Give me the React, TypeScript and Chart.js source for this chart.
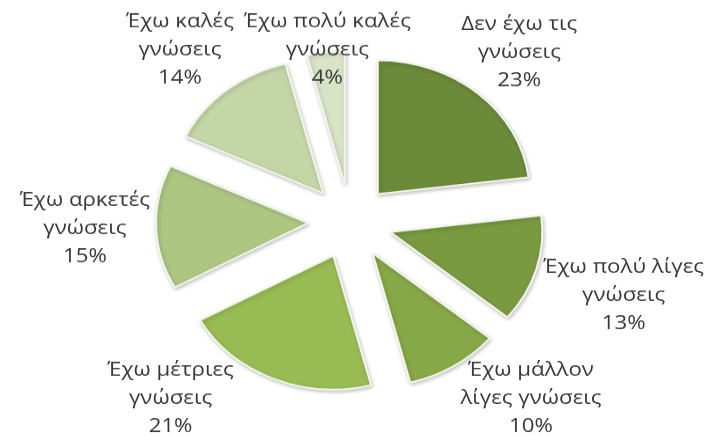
import React, { useEffect, useRef } from "react";
import { Chart, registerables } from "chart.js";

Chart.register(...registerables);

// ---- data ----
const categories: string[][] = [
  ["Δεν έχω τις", "γνώσεις"],
  ["Έχω πολύ λίγες", "γνώσεις"],
  ["Έχω μάλλον", "λίγες γνώσεις"],
  ["Έχω μέτριες", "γνώσεις"],
  ["Έχω αρκετές", "γνώσεις"],
  ["Έχω καλές", "γνώσεις"],
  ["Έχω πολύ καλές", "γνώσεις"],
];
const values = [23, 13, 10, 21, 15, 14, 4];
const sliceColors = ["#6b8a3a", "#799a40", "#86a846", "#98bc53", "#adc682", "#c4d5a6", "#d9e3c6"];

// ---- layout / style ----
const W = 706;
const VIEW_H = 436;
const SQUASH = 0.88;
const H = Math.round(VIEW_H / SQUASH);
const RADIUS = 152;
const EXPLODE = 42;
const GAP = 6;
const PUSH_PAD = 4;
const LABEL_SEP = 10;
const LINE = 32;
const TEXT_PAD = 10;
const LABEL_TOP = 15;
const FONT = "21px 'Open Sans', sans-serif";
const TEXT_STRETCH = 1.06;
const TEXT_COLOR = "#383838";

function insideAnySlice(chart: any, px: number, py: number, pad: number) {
  const arcs = chart.getDatasetMeta(0).data;
  for (const a of arcs) {
    const p = a.getProps(["x", "y", "startAngle", "endAngle", "outerRadius"], true);
    const half = (p.startAngle + p.endAngle) / 2;
    const vx = p.x + Math.cos(half) * EXPLODE;
    const vy = p.y + Math.sin(half) * EXPLODE;
    const dx = px - vx;
    const dy = py - vy;
    if (Math.hypot(dx, dy) > p.outerRadius + pad) continue;
    let ang = Math.atan2(dy, dx);
    while (ang < p.startAngle) ang += Math.PI * 2;
    while (ang > p.startAngle + Math.PI * 2) ang -= Math.PI * 2;
    if (ang <= p.endAngle) return true;
  }
  return false;
}

const explodePlugin = {
  id: "explodeSlices",
  beforeDatasetsDraw(chart: any) {
    const meta = chart.getDatasetMeta(0);
    meta.data.forEach((el: any) => {
      if (el.__exploded) return;
      const orig = el.draw;
      el.draw = function (ctx: CanvasRenderingContext2D, area: any) {
        const half = (this.startAngle + this.endAngle) / 2;
        ctx.save();
        ctx.translate(Math.cos(half) * EXPLODE, Math.sin(half) * EXPLODE);
        ctx.shadowColor = "rgba(0,0,0,0.22)";
        ctx.shadowBlur = 4;
        ctx.shadowOffsetX = 1;
        ctx.shadowOffsetY = 2;
        orig.call(this, ctx, area);
        ctx.restore();
      };
      el.__exploded = true;
    });
  },
};

type LabelBox = { cx: number; cy: number; w: number; hh: number; lines: string[] };

const labelPlugin = {
  id: "outsideLabels",
  afterDatasetsDraw(chart: any) {
    const ctx: CanvasRenderingContext2D = chart.ctx;
    const meta = chart.getDatasetMeta(0);
    const total = values.reduce((s, v) => s + v, 0);
    ctx.save();
    ctx.font = FONT;
    ctx.fillStyle = TEXT_COLOR;
    ctx.textAlign = "center";
    ctx.textBaseline = "middle";
    const boxes: LabelBox[] = [];
    meta.data.forEach((arc: any, i: number) => {
      const p = arc.getProps(["x", "y", "startAngle", "endAngle", "outerRadius"], true);
      const mid = (p.startAngle + p.endAngle) / 2;
      const dx = Math.cos(mid);
      const dy = Math.sin(mid);
      const lines = [...categories[i], `${Math.round((values[i] / total) * 100)}%`];
      const widths = lines.map((l) => ctx.measureText(l).width * TEXT_STRETCH);
      const w = Math.max(...widths);
      const hh = ((lines.length - 1) * LINE) / 2 + TEXT_PAD;
      const exitX = Math.abs(dx) > 1e-6 ? w / 2 / Math.abs(dx) : Infinity;
      const exitY = Math.abs(dy) > 1e-6 ? hh / Math.abs(dy) : Infinity;
      const exit = Math.min(exitX, exitY);
      const place = (t: number) => {
        let cx = p.x + dx * (t + exit);
        let cy = p.y + dy * (t + exit);
        cx = Math.min(Math.max(cx, w / 2 + 2), chart.width - w / 2 - 2);
        cy = Math.min(Math.max(cy, LABEL_TOP + hh), chart.height - hh);
        return { cx, cy };
      };
      const overlaps = (pos: { cx: number; cy: number }) => {
        for (let k = 0; k < lines.length; k++) {
          const ly = pos.cy + (k - (lines.length - 1) / 2) * LINE;
          const lw = widths[k];
          for (let sx = -lw / 2; sx <= lw / 2 + 0.1; sx += lw / 10) {
            for (let sy = -TEXT_PAD; sy <= TEXT_PAD; sy += TEXT_PAD) {
              if (insideAnySlice(chart, pos.cx + sx, ly + sy, PUSH_PAD)) return true;
            }
          }
        }
        return false;
      };
      const t0 = p.outerRadius + EXPLODE + GAP;
      let pos = place(t0);
      if (overlaps(pos)) {
        for (let t = t0 + 2; t < t0 + 260; t += 2) {
          const q = place(t);
          if (!overlaps(q)) {
            pos = q;
            break;
          }
        }
      }
      boxes.push({ cx: pos.cx, cy: pos.cy, w, hh, lines });
    });

    // separate labels that collide with each other
    for (let iter = 0; iter < 10; iter++) {
      let moved = false;
      for (let a = 0; a < boxes.length; a++) {
        for (let b = a + 1; b < boxes.length; b++) {
          const A = boxes[a];
          const B = boxes[b];
          if (Math.abs(A.cy - B.cy) >= A.hh + B.hh) continue;
          const need = A.w / 2 + B.w / 2 + LABEL_SEP - Math.abs(A.cx - B.cx);
          if (need > 0) {
            const s = A.cx < B.cx ? -1 : 1;
            A.cx += (s * need) / 2;
            B.cx -= (s * need) / 2;
            moved = true;
          }
        }
      }
      if (!moved) break;
    }

    boxes.forEach((b) => {
      const cx = Math.min(Math.max(b.cx, b.w / 2 + 2), chart.width - b.w / 2 - 2);
      b.lines.forEach((l, k) => {
        ctx.save();
        ctx.translate(cx, b.cy + (k - (b.lines.length - 1) / 2) * LINE);
        ctx.scale(TEXT_STRETCH, 1);
        ctx.fillText(l, 0, 0);
        ctx.restore();
      });
    });
    ctx.restore();
  },
};

export default function App() {
  const ref = useRef<HTMLCanvasElement>(null);
  useEffect(() => {
    const chart = new Chart(ref.current as HTMLCanvasElement, {
      type: "pie",
      data: {
        labels: categories.map((c) => c.join(" ")),
        datasets: [
          {
            data: values,
            backgroundColor: sliceColors,
            borderColor: "#f2f6ea",
            borderWidth: 2,
          },
        ],
      },
      options: {
        animation: false,
        responsive: true,
        maintainAspectRatio: false,
        radius: RADIUS,
        events: [],
        layout: { padding: { left: 0, right: 6, top: 9, bottom: 0 } },
        plugins: { legend: { display: false }, tooltip: { enabled: false } },
      } as any,
      plugins: [explodePlugin, labelPlugin],
    });
    return () => chart.destroy();
  }, []);
  return (
    <div
      style={{
        position: "fixed",
        left: 0,
        top: 0,
        width: W,
        height: VIEW_H,
        overflow: "hidden",
        background: "#ffffff",
      }}
    >
      <div style={{ width: W, height: H, transform: `scaleY(${SQUASH})`, transformOrigin: "0 0" }}>
        <canvas ref={ref} />
      </div>
    </div>
  );
}
